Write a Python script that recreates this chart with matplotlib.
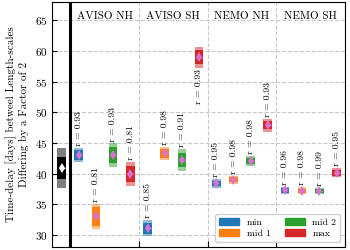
import matplotlib
matplotlib.use("Agg")
import matplotlib.pyplot as plt
from matplotlib.patches import Patch

plt.rcParams['font.family'] = ['cmr10', 'DejaVu Serif']
plt.rcParams['axes.formatter.use_mathtext'] = True
plt.rcParams['mathtext.fontset'] = 'cm'

groups = ["AVISO NH", "AVISO SH", "NEMO NH", "NEMO SH"]
series = ["min", "mid 1", "mid 2", "max"]
colors = ["tab:blue", "tab:orange", "tab:green", "tab:red"]

# centre values per group (rows) and series (cols)
centers = [
    [43.0, 33.0, 43.0, 39.9],
    [31.1, 43.3, 42.2, 59.0],
    [38.4, 38.95, 42.05, 47.85],
    [37.25, 37.2, 37.2, 40.1],
]
inner_half = [
    [0.8, 1.6, 1.35, 1.25],
    [0.9, 0.7, 1.2, 1.1],
    [0.45, 0.4, 0.5, 0.65],
    [0.4, 0.35, 0.35, 0.5],
]
outer_half = [
    [1.2, 2.1, 1.9, 1.95],
    [1.3, 1.1, 1.75, 1.7],
    [0.7, 0.65, 0.8, 1.0],
    [0.6, 0.55, 0.5, 0.75],
]
r_values = [
    [0.93, 0.81, 0.93, 0.81],
    [0.85, 0.98, 0.91, 0.93],
    [0.95, 0.98, 0.98, 0.93],
    [0.96, 0.98, 0.99, 0.95],
]
ref_center = 40.9
ref_inner = 1.8
ref_outer = 3.3

fig = plt.figure(figsize=(3.5, 2.5), dpi=100)
ax = fig.add_axes([0.149, 0.012, 0.837, 0.98])

w = 0.5
# reference (black) box
ax.bar(-0.5, 2 * ref_outer, bottom=ref_center - ref_outer, width=w, color='black', alpha=0.5, lw=0)
ax.bar(-0.5, 2 * ref_inner, bottom=ref_center - ref_inner, width=w, color='black', lw=0)
ax.plot(-0.5, ref_center, marker='d', color='white', ms=5, mew=0)
ax.plot(-0.5, ref_center, marker='_', color='white', ms=5, mew=1)
ax.axvline(0, color='black', lw=2.2, zorder=3)

for g, gname in enumerate(groups):
    for i in range(4):
        x = 4 * g + i + 0.5
        c = centers[g][i]
        ih = inner_half[g][i]
        oh = outer_half[g][i]
        ax.bar(x, 2 * oh, bottom=c - oh, width=w, color=colors[i], alpha=0.5, lw=0, zorder=2)
        ax.bar(x, 2 * ih, bottom=c - ih, width=w, color=colors[i], lw=0, zorder=2)
        ax.plot(x, c, marker='d', color='orchid', ms=5, mew=0, zorder=4)
        ax.plot(x, c, marker='_', color='orchid', ms=5, mew=1, zorder=4)
        label = f"r = {r_values[g][i]:.2f}"
        if c > 55:
            ax.text(x, c - oh - 0.3, label, rotation=90, ha='center', va='top', fontsize=7)
        else:
            ax.text(x, c + oh + 0.3, label, rotation=90, ha='center', va='bottom', fontsize=7)
    ax.text(4 * g + 2, 65.3, gname, ha='center', va='baseline', fontsize=8)

ax.set_xlim(-1.05, 16)
ax.set_ylim(28, 68)
ax.set_xticks([0, 4, 8, 12, 16])
ax.set_xticklabels([])
ax.set_yticks([30, 35, 40, 45, 50, 55, 60, 65])
ax.tick_params(axis='both', direction='in', labelsize=8)
ax.tick_params(axis='x', length=4)
ax.grid(True, linestyle='--', color='#c8c8c8', lw=0.8)
ax.set_axisbelow(True)
ax.set_ylabel("Time-delay [days] betweel Length-scales\nDiffering by a Factor of 2", fontsize=8)

handles = [Patch(color=c) for c in colors]
ax.legend(handles, series, ncol=2, loc='lower right', fontsize=7, handlelength=2.0,
          columnspacing=1.5, borderpad=0.4, labelspacing=0.3, framealpha=0.9)

fig.savefig("out.png", dpi=100)
